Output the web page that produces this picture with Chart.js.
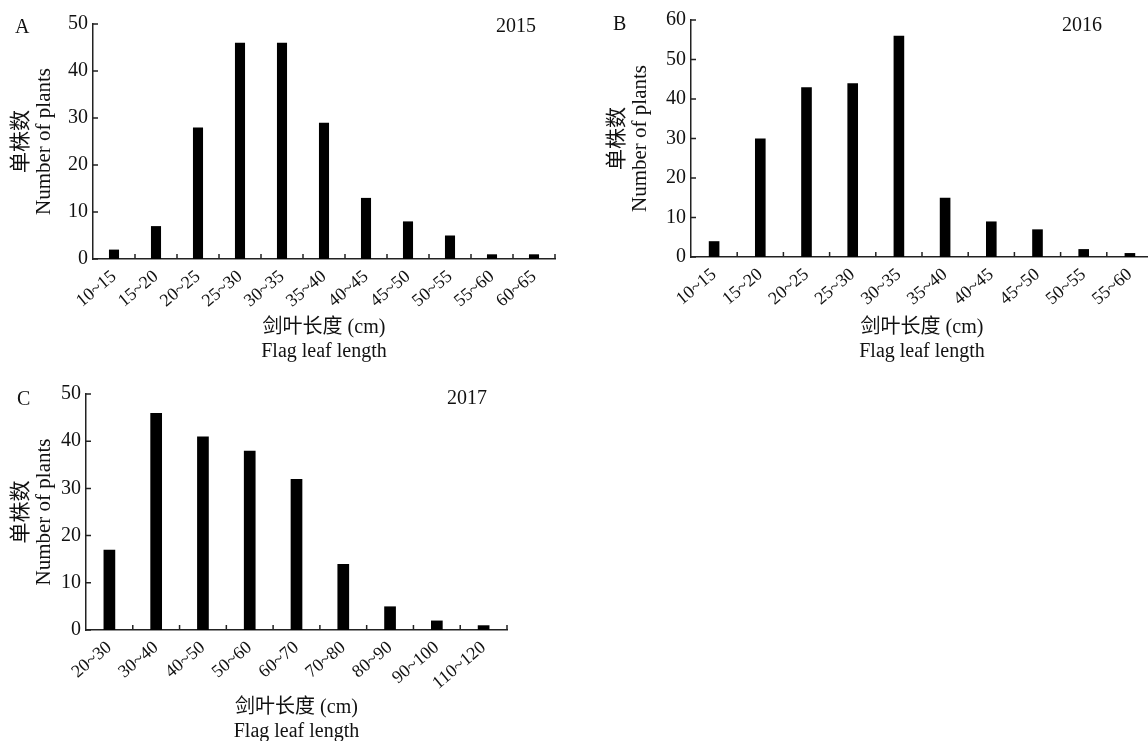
<!DOCTYPE html>
<html><head><meta charset="utf-8">
<script src="https://cdn.jsdelivr.net/npm/chart.js@4"></script>
<style>
html,body{margin:0;padding:0;background:#fff;overflow:hidden;width:1148px;height:741px;position:relative;}
canvas{position:absolute;}
.lbl{position:absolute;font-family:'Liberation Serif','Times New Roman',serif;font-size:20px;color:#111;line-height:20px;white-space:nowrap;}
</style></head><body>
<canvas id="ca" width="560" height="364" style="left:0;top:0"></canvas>
<canvas id="cb" width="557" height="364" style="left:596px;top:0"></canvas>
<canvas id="cc" width="560" height="374" style="left:0;top:370px"></canvas>
<div class="lbl" style="left:15px;top:16px">A</div>
<div class="lbl" style="left:496px;top:15px">2015</div>
<div class="lbl" style="left:613px;top:13px">B</div>
<div class="lbl" style="left:1062px;top:14px">2016</div>
<div class="lbl" style="left:17px;top:388px">C</div>
<div class="lbl" style="left:447px;top:387px">2017</div>
<script>
// ---- data ----
const catsA = ['10~15','15~20','20~25','25~30','30~35','35~40','40~45','45~50','50~55','55~60','60~65'];
const valsA = [2, 7, 28, 46, 46, 29, 13, 8, 5, 1, 1];
const catsB = ['10~15','15~20','20~25','25~30','30~35','35~40','40~45','45~50','50~55','55~60'];
const valsB = [4, 30, 43, 44, 56, 15, 9, 7, 2, 1];
const catsC = ['20~30','30~40','40~50','50~60','60~70','70~80','80~90','90~100','110~120'];
const valsC = [17, 46, 41, 38, 32, 14, 5, 2, 1];
const yTitle = ['单株数', 'Number of plants'];
const xTitle = ['剑叶长度 (cm)', 'Flag leaf length'];

const SERIF = "'Liberation Serif', 'Noto Sans CJK SC', serif";
const AX = '#222';

const tickPlugin = {
  id: 'inTicks',
  afterDraw(chart) {
    const {ctx, chartArea: a, scales: {x, y}} = chart;
    ctx.save();
    ctx.strokeStyle = AX; ctx.lineWidth = 1.5;
    ctx.beginPath();
    y.ticks.forEach(t => {
      const py = y.getPixelForValue(t.value);
      ctx.moveTo(a.left, py); ctx.lineTo(a.left + 5, py);
    });
    const n = x.ticks.length;
    for (let i = 1; i <= n; i++) {
      const px = i < n ? (x.getPixelForValue(i - 1) + x.getPixelForValue(i)) / 2 : x.right;
      ctx.moveTo(px, a.bottom); ctx.lineTo(px, a.bottom - 5);
    }
    ctx.stroke();
    ctx.restore();
  }
};

function makeChart(id, labels, values, o) {
  return new Chart(document.getElementById(id), {
    type: 'bar',
    data: {labels: labels, datasets: [{data: values, backgroundColor: '#000', borderWidth: 0,
      barPercentage: o.bar, categoryPercentage: 1}]},
    options: {
      responsive: false, animation: false, devicePixelRatio: 1,
      layout: {padding: {top: o.top, right: o.right, left: 0, bottom: 0}},
      plugins: {legend: {display: false}, tooltip: {enabled: false}},
      scales: {
        x: {
          grid: {display: false, drawTicks: false},
          border: {display: true, color: AX, width: 1.5},
          ticks: {font: {family: SERIF, size: 18}, color: '#111', minRotation: 40, maxRotation: 40,
            padding: 7, autoSkip: false},
          title: {display: true, text: xTitle, color: '#111',
            font: {family: SERIF, size: 20, lineHeight: 1.2}, padding: {top: 0, bottom: 0}},
          afterFit: s => { s.height = o.xh; }
        },
        y: {
          min: 0, max: o.max,
          grid: {display: false, drawTicks: false},
          border: {display: true, color: AX, width: 1.5},
          ticks: {stepSize: 10, font: {family: SERIF, size: 20}, color: '#111', padding: 5},
          title: {display: true, text: yTitle, color: '#111',
            font: {family: SERIF, size: 21, lineHeight: 1.1}, padding: {top: 10, bottom: 0}},
          afterFit: s => { s.width = o.yw; }
        }
      }
    },
    plugins: [tickPlugin]
  });
}

makeChart('ca', catsA, valsA, {top: 24, right: 5, yw: 93, xh: 105, max: 50, bar: 0.24});
makeChart('cb', catsB, valsB, {top: 20, right: 0, yw: 95, xh: 107, max: 60, bar: 0.23});
makeChart('cc', catsC, valsC, {top: 24, right: 53, yw: 86, xh: 114, max: 50, bar: 0.25});
</script>
</body></html>
